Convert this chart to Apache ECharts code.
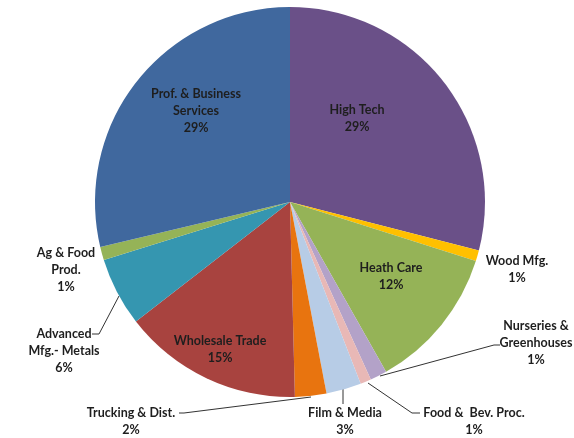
<!DOCTYPE html>
<html style="height: 100%">
    <head>
        <meta charset="utf-8">
    </head>
    <body style="height: 100%; margin: 0; background: #ffffff">
        <div id="container" style="height: 100%"></div>
        <script type="text/javascript" src="https://cdn.jsdelivr.net/npm/echarts@6/dist/echarts.min.js"></script>
        <script type="text/javascript">
    // clockwise from 12 o'clock
    var sectors = ['High Tech', 'Wood Mfg.', 'Heath Care', 'Nurseries &\nGreenhouses', 'Food &  Bev. Proc.',
        'Film & Media', 'Trucking & Dist.', 'Wholesale Trade', 'Advanced\nMfg.- Metals', 'Ag & Food\nProd.',
        'Prof. & Business\nServices'];
    var shares = [29.0, 0.9, 11.9, 1.4, 0.9, 2.9, 2.6, 14.9, 5.7, 1.1, 28.7];
    var shareText = ['29%', '1%', '12%', '1%', '1%', '3%', '2%', '15%', '6%', '1%', '29%'];
    var colors = ['#6a5088', '#ffc000', '#95b357', '#b3a2c8', '#e8b8b6', '#b7cce6', '#e8740f',
        '#a8433f', '#3596b0', '#95b357', '#40689e'];

    // where each label block sits, and leader lines for the small ones
    var labelAt = [[357, 118], [517, 269], [391, 276], [536, 343], [474, 421], [345, 421],
        [131, 421], [220, 349], [64, 351], [66, 270], [196, 111]];
    var leaders = {
        3: [[380, 376], [494, 345], [500, 345]],
        4: [[368, 383], [412, 413], [420, 413]],
        5: [[343, 388], [343, 396], [343, 404]],
        6: [[311, 397], [184, 413], [179, 413]],
        8: [[119, 296], [99, 334], [92, 334]]
    };
    var inside = [0, 2, 7, 10];

    var dom = document.getElementById("container");
    var myChart = echarts.init(dom);
    var option;

    var data = [];
    for (var i = 0; i < sectors.length; i++) {
        data.push({
            name: sectors[i],
            value: shares[i],
            itemStyle: { color: colors[i] },
            label: { position: inside.indexOf(i) >= 0 ? 'inside' : 'outside' },
            labelLine: { show: leaders[i] !== undefined }
        });
    }

    option = {
        backgroundColor: '#ffffff',
        animation: false,
        series: [{
            type: 'pie',
            center: [290, 202],
            radius: 195,
            startAngle: 90,
            clockwise: true,
            avoidLabelOverlap: false,
            data: data,
            itemStyle: { borderWidth: 0 },
            label: {
                show: true,
                formatter: function (p) {
                    return p.name + '\n' + shareText[p.dataIndex];
                },
                fontFamily: 'Lato',
                fontWeight: 'bold',
                fontSize: 12.5,
                lineHeight: 17,
                color: '#1e1e1e',
                align: 'center'
            },
            labelLine: {
                lineStyle: { color: '#333333', width: 1 }
            },
            labelLayout: function (p) {
                var pos = labelAt[p.dataIndex];
                var out = {
                    x: pos[0],
                    y: pos[1],
                    align: 'center',
                    verticalAlign: 'middle'
                };
                if (leaders[p.dataIndex]) {
                    out.labelLinePoints = leaders[p.dataIndex];
                }
                return out;
            }
        }]
    };

    if (option && typeof option === 'object') {
        myChart.setOption(option);
    }
        </script>
    </body>
</html>
